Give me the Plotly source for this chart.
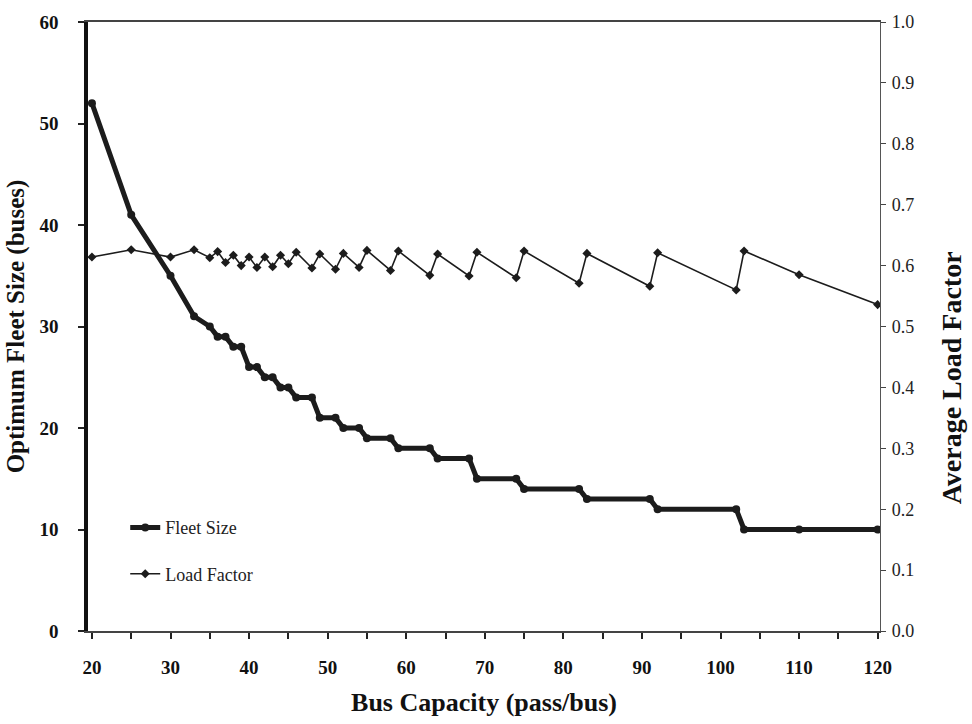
import plotly.graph_objects as go

capacity = [20, 25, 30, 33, 35, 36, 37, 38, 39, 40, 41, 42, 43, 44, 45, 46, 48, 49, 51, 52,
            54, 55, 58, 59, 63, 64, 68, 69, 74, 75, 82, 83, 91, 92, 102, 103, 110, 120]
fleet_size = [52, 41, 35, 31, 30, 29, 29, 28, 28, 26, 26, 25, 25, 24, 24, 23, 23, 21, 21, 20,
              20, 19, 19, 18, 18, 17, 17, 15, 15, 14, 14, 13, 13, 12, 12, 10, 10, 10]
load_factor = [0.614, 0.626, 0.614, 0.626, 0.613, 0.623, 0.605, 0.617, 0.600, 0.614, 0.597,
               0.614, 0.598, 0.617, 0.603, 0.622, 0.596, 0.619, 0.594, 0.620, 0.597, 0.625,
               0.592, 0.624, 0.584, 0.619, 0.583, 0.622, 0.580, 0.624, 0.571, 0.620, 0.566,
               0.621, 0.560, 0.624, 0.585, 0.536]

x_ticks = [20, 30, 40, 50, 60, 70, 80, 90, 100, 110, 120]

SERIF = "Liberation Serif, Times New Roman, serif"
INK = "#1c1c1c"

fig = go.Figure()
fig.add_trace(go.Scatter(
    x=capacity, y=fleet_size, name="Fleet Size", mode="lines+markers",
    line=dict(color=INK, width=5), marker=dict(symbol="circle", size=8, color=INK),
    legendgroup="a", yaxis="y"))
fig.add_trace(go.Scatter(
    x=capacity, y=load_factor, name="Load Factor", mode="lines+markers",
    line=dict(color=INK, width=1.6), marker=dict(symbol="diamond", size=7, color=INK),
    legendgroup="b", yaxis="y2"))

fig.update_layout(
    width=972, height=724,
    margin=dict(l=88, r=92, t=18, b=89),
    paper_bgcolor="white", plot_bgcolor="white",
    font=dict(family=SERIF, color="#111", size=17),
    showlegend=True,
    legend=dict(x=0.047, y=0.2, xanchor="left", yanchor="top",
                bgcolor="rgba(0,0,0,0)", font=dict(family=SERIF, size=18, color="#222"),
                traceorder="grouped", tracegroupgap=20, itemwidth=30),
    xaxis=dict(
        range=[19.5, 120.3], tickmode="array", tickvals=x_ticks,
        ticks="outside", ticklen=6, tickwidth=1.5, tickcolor="#222",
        minor=dict(dtick=5, tick0=20, ticks="outside", ticklen=6, tickwidth=1.5, tickcolor="#222"),
        showline=True, linecolor="#444", linewidth=1.5, mirror=True,
        showgrid=False, zeroline=False,
        tickfont=dict(family=SERIF, size=19, color="#111", weight="bold"),
        ticklabelstandoff=12,
        title=dict(text="<b>Bus Capacity (pass/bus)</b>", standoff=16,
                   font=dict(family=SERIF, size=26, color="#111"))),
    yaxis=dict(
        range=[0, 60], dtick=10, ticks="outside", ticklen=6, tickwidth=1.5, tickcolor="#222",
        showline=True, linecolor="#111", linewidth=3.5,
        showgrid=False, zeroline=False,
        tickfont=dict(family=SERIF, size=19, color="#111", weight="bold"),
        ticklabelstandoff=16,
        title=dict(text="<b>Optimum Fleet Size (buses)</b>", standoff=9,
                   font=dict(family=SERIF, size=25, color="#111"))),
    yaxis2=dict(
        range=[0, 1.0], dtick=0.1, tickformat=".1f", overlaying="y", side="right",
        ticks="outside", ticklen=5, tickwidth=1, tickcolor="#444",
        showline=True, linecolor="#555", linewidth=1.2,
        showgrid=False, zeroline=False,
        tickfont=dict(family=SERIF, size=18, color="#222"),
        ticklabelstandoff=2),
    annotations=[dict(
        text="<b>Average Load Factor</b>", textangle=-90,
        xref="paper", yref="paper", x=1.0905, y=0.416,
        xanchor="center", yanchor="middle", showarrow=False,
        font=dict(family=SERIF, size=28, color="#111"))],
)

fig.write_html("out.html")
